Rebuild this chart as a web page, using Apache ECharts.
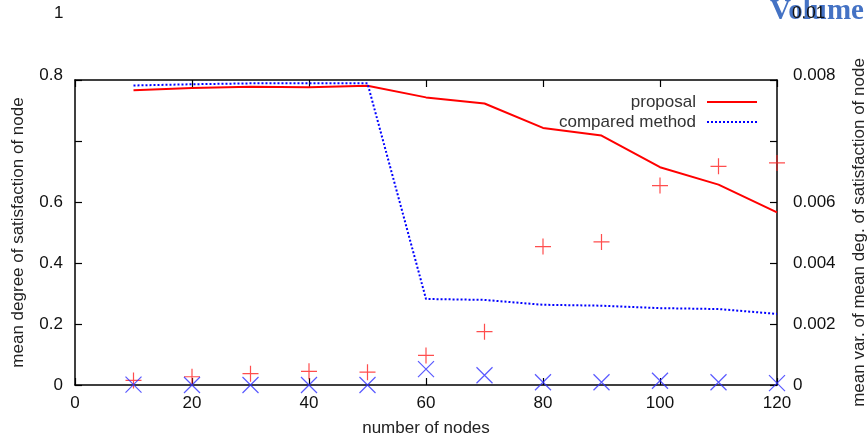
<!DOCTYPE html>
<html>
<head>
<meta charset="utf-8">
<style>
  html, body { margin: 0; padding: 0; background: #fff; }
  #chart { width: 868px; height: 437px; }
</style>
<script src="https://cdn.jsdelivr.net/npm/echarts@6/dist/echarts.min.js"></script>
</head>
<body>
<div id="chart"></div>
<script>
  // number of nodes
  const nodes = [10, 20, 30, 40, 50, 60, 70, 80, 90, 100, 110, 120];

  // mean degree of satisfaction (left axis)
  const proposalMean = [0.966, 0.974, 0.978, 0.976, 0.981, 0.943, 0.923, 0.843, 0.818, 0.714, 0.657, 0.566];
  const comparedMean = [0.982, 0.986, 0.989, 0.989, 0.989, 0.282, 0.279, 0.263, 0.260, 0.252, 0.249, 0.233];

  // mean variance (right axis)
  const proposalVar = [0.00015, 0.00027, 0.00037, 0.00045, 0.00042, 0.00097, 0.00175, 0.00454, 0.00469, 0.00654, 0.00717, 0.00728];
  const comparedVar = [0.00001, 0, 0, 0, 0, 0.00052, 0.00032, 0.00009, 0.00009, 0.00014, 0.00009, 0.00006];

  const leftTicks = ['0', '0.2', '0.4', '0.6'];
  const rightTicks = ['0', '0.002', '0.004', '0.006'];

  const font = 'Liberation Sans, Arial, sans-serif';
  const pair = (xs, ys) => xs.map((x, i) => [x, ys[i]]);

  const chart = echarts.init(document.getElementById('chart'));

  const tickCommon = { inside: true, length: 7, lineStyle: { color: '#000', width: 1.2 } };
  const lineCommon = { show: true, onZero: false, lineStyle: { color: '#000', width: 1.5 } };

  const option = {
    animation: false,
    grid: { left: 75, right: 91, top: 80, bottom: 52, containLabel: false, outerBoundsMode: 'none' },
    legend: {
      data: ['proposal', 'compared method'],
      orient: 'vertical',
      align: 'right',
      right: 105,
      top: 87,
      itemWidth: 50,
      itemHeight: 14,
      itemGap: 0,
      itemStyle: { opacity: 0 },
      textStyle: { fontFamily: font, fontSize: 17, color: '#333', lineHeight: 20, padding: [0, 6, 0, 0] }
    },
    xAxis: [{
      type: 'value', min: 0, max: 120, interval: 20,
      name: 'number of nodes', nameLocation: 'middle', nameGap: 35,
      nameTextStyle: { fontFamily: font, fontSize: 17, color: '#222' },
      axisLine: lineCommon, axisTick: tickCommon, splitLine: { show: false },
      axisLabel: { fontFamily: font, fontSize: 17, color: '#111', margin: 10 }
    }, {
      type: 'value', min: 0, max: 120, interval: 20, position: 'top',
      axisLine: lineCommon, axisTick: tickCommon, splitLine: { show: false },
      axisLabel: { show: false }
    }],
    yAxis: [{
      type: 'value', min: 0, max: 1, interval: 0.2,
      name: 'mean degree of satisfaction of node', nameLocation: 'middle', nameGap: 48, nameRotate: 90,
      nameTextStyle: { fontFamily: font, fontSize: 17, color: '#222' },
      axisLine: lineCommon, axisTick: tickCommon, splitLine: { show: false },
      axisLabel: {
        fontFamily: font, fontSize: 17, color: '#111', margin: 12,
        formatter: (v) => { const i = Math.round(v / 0.2); return i < leftTicks.length ? leftTicks[i] : ''; }
      }
    }, {
      type: 'value', min: 0, max: 0.01, interval: 0.002, position: 'right',
      name: 'mean var. of mean deg. of satisfaction of node', nameLocation: 'middle', nameGap: 74, nameRotate: 90,
      nameTextStyle: { fontFamily: font, fontSize: 17, color: '#222' },
      axisLine: lineCommon, axisTick: tickCommon, splitLine: { show: false },
      axisLabel: {
        fontFamily: font, fontSize: 17, color: '#111', margin: 16,
        formatter: (v) => { const i = Math.round(v / 0.002); return i < rightTicks.length ? rightTicks[i] : ''; }
      }
    }],
    graphic: [
      { type: 'text', right: 868 - 63, top: 76 - 9, style: { text: '0.8', font: '17px ' + font, fill: '#111' } },
      { type: 'text', left: 54, top: 14 - 9, style: { text: '1', font: '17px ' + font, fill: '#111' } },
      { type: 'text', left: 770, top: -3, z: 10, style: { text: 'Volume', font: 'bold 29px "Liberation Serif", serif', fill: '#4472C4' } },
      { type: 'text', left: 793, top: 76 - 9, style: { text: '0.008', font: '17px ' + font, fill: '#111' } },
      { type: 'text', left: 792, top: 14 - 9, z: 11, style: { text: '0.01', font: '17px ' + font, fill: '#111' } }
    ],
    series: [{
      name: 'proposal', type: 'line', xAxisIndex: 0, yAxisIndex: 0,
      data: pair(nodes, proposalMean), symbol: 'none',
      lineStyle: { color: '#ff0000', width: 2 }, itemStyle: { color: '#ff0000' }
    }, {
      name: 'compared method', type: 'line', xAxisIndex: 0, yAxisIndex: 0,
      data: pair(nodes, comparedMean), symbol: 'none',
      lineStyle: { color: '#0000ff', width: 2, type: [2, 2] }, itemStyle: { color: '#0000ff' }
    }, {
      name: 'proposal var', type: 'scatter', xAxisIndex: 0, yAxisIndex: 1,
      data: pair(nodes, proposalVar),
      symbol: 'path://M8,0L8,16M0,8L16,8', symbolSize: 16,
      itemStyle: { color: 'none', borderColor: '#ff2020', borderWidth: 1.2 }
    }, {
      name: 'compared var', type: 'scatter', xAxisIndex: 0, yAxisIndex: 1,
      data: pair(nodes, comparedVar),
      symbol: 'path://M0,0L16,16M16,0L0,16', symbolSize: 16,
      itemStyle: { color: 'none', borderColor: '#3030ff', borderWidth: 1.2 }
    }]
  };

  chart.setOption(option);
</script>
</body>
</html>
